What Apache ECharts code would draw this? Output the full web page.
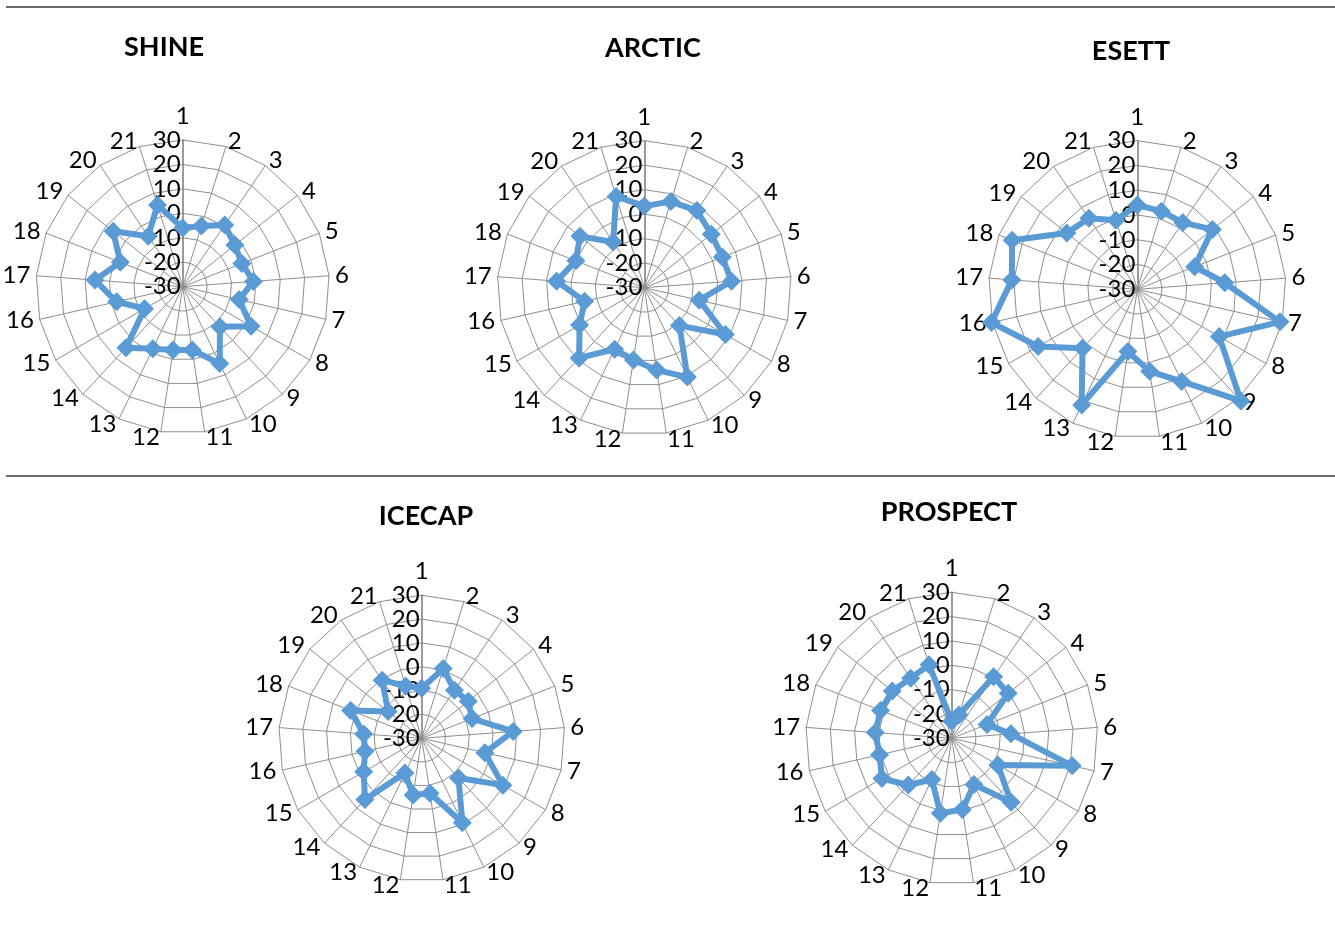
<!DOCTYPE html>
<html>
<head>
<meta charset="utf-8">
<script src="https://cdn.jsdelivr.net/npm/echarts@6/dist/echarts.min.js"></script>
<style>
  html, body { margin: 0; padding: 0; background: #fff; }
  #chart { width: 1335px; height: 925px; }
</style>
</head>
<body>
<div id="chart"></div>
<script>
// ---- data ----
const categories = ['1','2','3','4','5','6','7','8','9','10','11','12','13','14','15','16','17','18','19','20','21'];
const tickMin = -30;
const tickMax = 30;
const titles = ['SHINE', 'ARCTIC', 'ESETT', 'ICECAP', 'PROSPECT'];
const shine    = [-6, -4, 0.5, -2.7, -4, -1, -6.3, 2.3, -7.6, 4.9, -3.8, -3.8, -1.8, 4.1, -12, -2.3, 6, -2.6, 6.4, -5, 5];
const arctic   = [3.3, 6.8, 8.1, 5, 4.2, 5.7, -7, 8.2, -8.9, 10.5, 4, -0.2, -2.1, 9.1, 0.5, -5, 5.9, 0, 3.6, -7.4, 9];
const esett    = [4, 3, 2.6, 8.8, -5.1, 5.4, 29.1, 8.2, 31.5, 11.3, 3.5, -4.6, 21.8, 2.5, 16.2, 30.4, 20.8, 24.3, 6.4, 4.7, -0.8];
const icecap   = [-9, 0.6, -5.6, -5, -7.3, 8.5, -2.8, 9.3, -7.3, 9.3, -6.7, -5.9, -13.8, 5, -1.9, -5.6, -5.6, 2, -12, -0.5, -7];
const prospect = [-23, -20, 0.6, -0.3, -14.4, -5.6, 20.8, -8.1, 5.9, -8.9, -0.4, 1.2, -11.2, -3.8, 3.1, 0.4, 1.5, 1.4, 1.2, -0.1, 1.6];
const allSeries = [shine, arctic, esett, icecap, prospect];

// ---- layout ----
const centers = [[182.7, 286.7], [644.3, 287.7], [1137.3, 289.3], [421.7, 738.3], [951.7, 738.3]];
const radii = [146.7, 147, 148.6, 143, 146];
const titlePos = [[164, 47], [653, 48], [1131, 51], [426, 516], [949, 512]];

const FONT = 'Lato, "Open Sans", sans-serif';
const BLUE = '#5b9bd5';

// clockwise order: 1, 21, 20, ..., 2
const order = [0];
for (let i = categories.length - 1; i >= 1; i--) order.push(i);

function indicators() {
  return order.map((idx, k) => {
    const ind = { name: categories[idx], min: tickMin, max: tickMax };
    if (k === 0) {
      ind.axisLine = { lineStyle: { color: '#7a7a7a', width: 1.5 } };
      ind.axisLabel = {
        show: true, color: '#000', fontSize: 24, fontFamily: FONT,
        margin: 2
      };
    }
    return ind;
  });
}

const radar = [];
const series = [];
const graphic = [];
allSeries.forEach((vals, i) => {
  radar.push({
    center: centers[i],
    radius: radii[i],
    shape: 'polygon',
    splitNumber: 6,
    startAngle: 90,
    nameGap: 6,
    axisName: { color: '#000', fontSize: 24, fontFamily: FONT },
    axisLine: { lineStyle: { color: '#8f8f8f', width: 1 } },
    splitLine: { lineStyle: { color: '#8f8f8f', width: 1 } },
    splitArea: { show: false },
    axisLabel: { show: false },
    axisTick: { show: false },
    indicator: indicators()
  });
  series.push({
    type: 'radar',
    radarIndex: i,
    symbol: 'diamond',
    symbolSize: 19,
    lineStyle: { color: BLUE, width: 6 },
    itemStyle: { color: BLUE },
    silent: true,
    data: [{ value: order.map(idx => vals[idx]) }]
  });
  graphic.push({
    type: 'text', x: titlePos[i][0], y: titlePos[i][1],
    style: { text: titles[i], fill: '#000', font: 'bold 27px ' + FONT, textAlign: 'center', textVerticalAlign: 'middle' }
  });
});
graphic.push({ type: 'line', shape: { x1: 6, y1: 7, x2: 1335, y2: 7 }, style: { stroke: '#6b6b6b', lineWidth: 2 } });
graphic.push({ type: 'line', shape: { x1: 6, y1: 476, x2: 1335, y2: 476 }, style: { stroke: '#6b6b6b', lineWidth: 2 } });

const chart = echarts.init(document.getElementById('chart'), null, { renderer: 'canvas' });
chart.setOption({
  animation: false,
  backgroundColor: '#fff',
  radar: radar,
  series: series,
  graphic: graphic
});
</script>
</body>
</html>
